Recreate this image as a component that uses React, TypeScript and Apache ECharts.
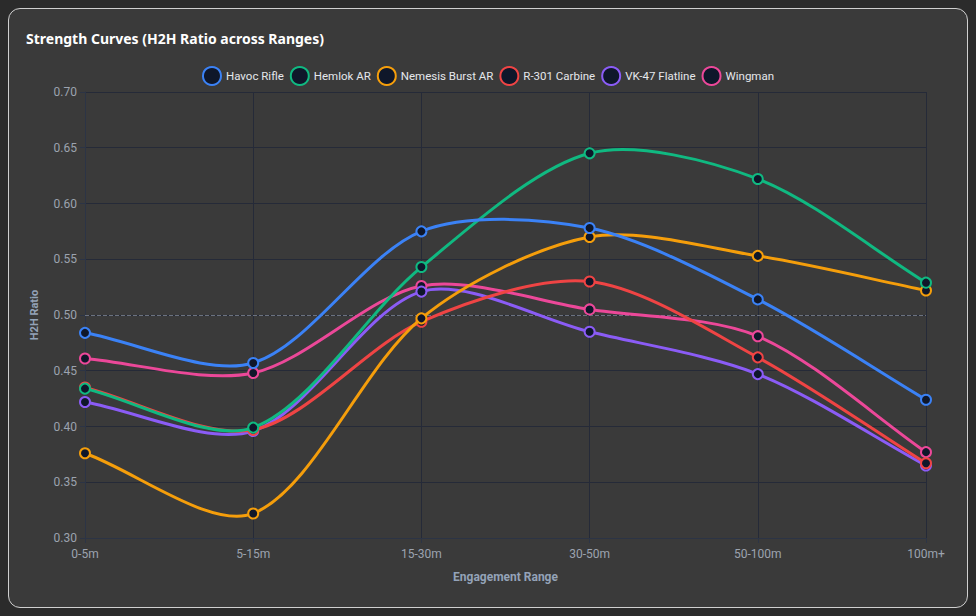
import React, { useEffect, useRef } from "react";
import * as echarts from "echarts";

const categories = ["0-5m", "5-15m", "15-30m", "30-50m", "50-100m", "100m+"];
const seriesNames = ["Havoc Rifle", "Hemlok AR", "Nemesis Burst AR", "R-301 Carbine", "VK-47 Flatline", "Wingman"];
const havoc = [0.484, 0.457, 0.575, 0.578, 0.514, 0.424];
const hemlok = [0.434, 0.399, 0.543, 0.645, 0.622, 0.529];
const nemesis = [0.376, 0.322, 0.497, 0.57, 0.553, 0.522];
const r301 = [0.435, 0.397, 0.494, 0.53, 0.462, 0.367];
const vk47 = [0.422, 0.396, 0.521, 0.485, 0.447, 0.365];
const wingman = [0.461, 0.448, 0.526, 0.505, 0.481, 0.377];
const colors = ["#3b82f6", "#10b981", "#f59e0b", "#ef4444", "#8b5cf6", "#ec4899"];
const allData = [havoc, hemlok, nemesis, r301, vk47, wingman];

const TENSION = 0.3;
const FONT = "Roboto";

function splinePath(pts: number[][]): string {
  const n = pts.length;
  const cpIn: number[][] = [];
  const cpOut: number[][] = [];
  for (let i = 0; i < n; i++) {
    const cur = pts[i];
    const prev = i > 0 ? pts[i - 1] : cur;
    const next = i < n - 1 ? pts[i + 1] : cur;
    const d01 = Math.hypot(cur[0] - prev[0], cur[1] - prev[1]);
    const d12 = Math.hypot(next[0] - cur[0], next[1] - cur[1]);
    let s01 = d01 / (d01 + d12);
    let s12 = d12 / (d01 + d12);
    if (!isFinite(s01)) s01 = 0;
    if (!isFinite(s12)) s12 = 0;
    const fa = TENSION * s01;
    const fb = TENSION * s12;
    cpIn.push([cur[0] - fa * (next[0] - prev[0]), cur[1] - fa * (next[1] - prev[1])]);
    cpOut.push([cur[0] + fb * (next[0] - prev[0]), cur[1] + fb * (next[1] - prev[1])]);
  }
  let d = `M${pts[0][0]},${pts[0][1]}`;
  for (let i = 1; i < n; i++) {
    d += ` C${cpOut[i - 1][0]},${cpOut[i - 1][1]} ${cpIn[i][0]},${cpIn[i][1]} ${pts[i][0]},${pts[i][1]}`;
  }
  return d;
}

export default function App() {
  const ref = useRef<HTMLDivElement>(null);
  useEffect(() => {
    document.body.style.background = "#2b2b2b";
    document.documentElement.style.background = "#2b2b2b";
    const chart = echarts.init(ref.current!, null, { renderer: "svg" });

    const curveSeries = seriesNames.map((name, i) => ({
      name: name + " curve",
      type: "custom",
      data: [[0, allData[i][0]]],
      silent: true,
      z: 10 + (5 - i) * 2,
      renderItem: (params: any, api: any) => {
        const pts = allData[i].map((v, k) => api.coord([k, v]));
        return {
          type: "path",
          shape: { pathData: splinePath(pts) },
          style: { stroke: colors[i], lineWidth: 3, fill: "none", lineJoin: "round", lineCap: "round" },
        };
      },
    }));

    const pointSeries = seriesNames.map((name, i) => ({
      name,
      type: "line",
      data: allData[i],
      symbol: "circle",
      symbolSize: 10,
      lineStyle: { width: 0, opacity: 0 },
      itemStyle: { color: "#0f172a", borderColor: colors[i], borderWidth: 2 },
      emphasis: { disabled: true },
      z: 11 + (5 - i) * 2,
      markLine:
        i === 0
          ? {
              silent: true,
              symbol: "none",
              label: { show: false },
              lineStyle: { color: "#6b7280", type: "dashed", width: 1 },
              data: [{ yAxis: 0.5 }],
              z: 1,
            }
          : undefined,
    }));

    chart.setOption({
      animation: false,
      backgroundColor: "transparent",
      title: {
        text: "Strength Curves (H2H Ratio across Ranges)",
        left: 12,
        top: 17,
        textStyle: { color: "#ffffff", fontSize: 14, fontWeight: "bold", fontFamily: "Noto Sans" },
      },
      legend: {
        top: 52,
        left: "center",
        itemWidth: 18,
        itemHeight: 18,
        itemGap: 6,
        icon: "circle",
        textStyle: { color: "#e5e7eb", fontSize: 11.5, fontFamily: FONT },
        data: seriesNames,
      },
      grid: { left: 76, right: 41, top: 83, bottom: 69 },
      xAxis: {
        type: "category",
        data: categories,
        boundaryGap: false,
        name: "Engagement Range",
        nameLocation: "middle",
        nameGap: 33,
        nameTextStyle: { color: "#94a3b8", fontSize: 12, fontWeight: "bold", fontFamily: FONT },
        axisLine: { lineStyle: { color: "#2c3445" } },
        axisTick: { show: true, length: 5, lineStyle: { color: "#2c3445" } },
        axisLabel: { color: "#9ca3af", fontSize: 12, margin: 10, fontFamily: FONT },
        splitLine: { show: true, lineStyle: { color: "#252a38", width: 1 } },
      },
      yAxis: {
        type: "value",
        min: 0.3,
        max: 0.7,
        interval: 0.05,
        name: "H2H Ratio",
        nameLocation: "middle",
        nameGap: 45,
        nameTextStyle: { color: "#94a3b8", fontSize: 11, fontWeight: "bold", fontFamily: FONT },
        axisLine: { show: true, lineStyle: { color: "#2c3445" } },
        axisTick: { show: true, length: 5, lineStyle: { color: "#2c3445" } },
        axisLabel: { color: "#9ca3af", fontSize: 12, margin: 8, formatter: (v: number) => v.toFixed(2), fontFamily: FONT },
        splitLine: { show: true, lineStyle: { color: "#252a38", width: 1 } },
      },
      series: [...pointSeries, ...curveSeries],
    });
    return () => chart.dispose();
  }, []);
  return (
    <div
      style={{
        width: 958,
        height: 598,
        background: "#3a3a3a",
        border: "1px solid #cfcfcf",
        borderRadius: 12,
        overflow: "hidden",
      }}
    >
      <div ref={ref} style={{ width: 958, height: 598 }} />
    </div>
  );
}
